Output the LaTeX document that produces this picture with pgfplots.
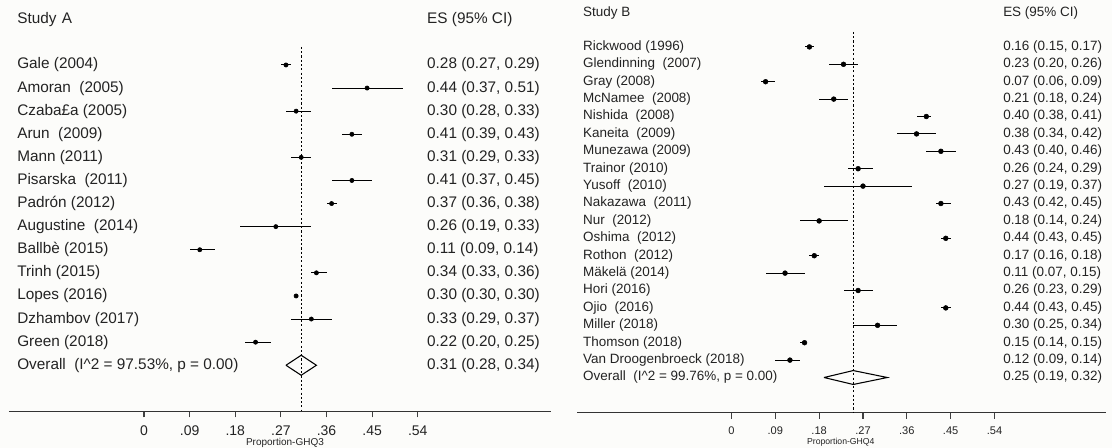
\documentclass[border=0pt]{standalone}
\usepackage{fontspec}
\setmainfont{Liberation Sans}
\usepackage{pgfplots}
\pgfplotsset{compat=1.18}
\usepackage{pgfplotstable}
\definecolor{txt}{RGB}{35,35,35}
\definecolor{bg}{RGB}{252,252,250}

% Study A: row, effect size, lower, upper
\pgfplotstableread{
row es lo hi
-1 0.28 0.27 0.29
-2 0.44 0.37 0.51
-3 0.30 0.28 0.33
-4 0.41 0.39 0.43
-5 0.31 0.29 0.33
-6 0.41 0.37 0.45
-7 0.37 0.36 0.38
-8 0.26 0.19 0.33
-9 0.11 0.09 0.14
-10 0.34 0.33 0.36
-11 0.30 0.30 0.30
-12 0.33 0.29 0.37
-13 0.22 0.20 0.25
}\dataA

% Study B
\pgfplotstableread{
row es lo hi
-1 0.16 0.15 0.17
-2 0.23 0.20 0.26
-3 0.07 0.06 0.09
-4 0.21 0.18 0.24
-5 0.40 0.38 0.41
-6 0.38 0.34 0.42
-7 0.43 0.40 0.46
-8 0.26 0.24 0.29
-9 0.27 0.19 0.37
-10 0.43 0.42 0.45
-11 0.18 0.14 0.24
-12 0.44 0.43 0.45
-13 0.17 0.16 0.18
-14 0.11 0.07 0.15
-15 0.26 0.23 0.29
-16 0.44 0.43 0.45
-17 0.30 0.25 0.34
-18 0.15 0.14 0.15
-19 0.12 0.09 0.14
}\dataB

\tikzset{
  lA/.style={anchor=west, inner sep=0pt, text=txt, font=\fontsize{11.5}{13}\selectfont},
  lB/.style={anchor=west, inner sep=0pt, text=txt, font=\fontsize{10.1}{12}\selectfont},
}
\newcommand{\RowA}[3]{\node[lA] at (axis cs:-0.2505,-#1) {#2};\node[lA] at (axis cs:0.558,-#1) {#3};}
\newcommand{\RowB}[3]{\node[lB] at (axis cs:-0.305,-#1) {#2};\node[lB] at (axis cs:0.5575,-#1) {#3};}

\begin{document}
\begin{tikzpicture}
\path[use as bounding box, fill=bg] (0,0) rectangle (834pt,336pt);

% ---------------- Panel A ----------------
\begin{axis}[
  scale only axis,
  x=380.25pt, y=17.325pt,
  xmin=-0.2663, xmax=0.8028, ymin=-16, ymax=1.5,
  at={(6.75pt,27.4pt)}, anchor=south west,
  axis x line*=bottom, axis y line=none,
  x axis line style={-, line width=0.8pt, color=black!80},
  xtick={0,0.09,0.18,0.27,0.36,0.45,0.54},
  xticklabels={0,.09,.18,.27,.36,.45,.54},
  tick align=outside, major tick length=4.5pt,
  xtick style={black!75, line width=0.8pt},
  xticklabel style={anchor=base, yshift=-13.5pt, text=txt, font=\fontsize{10.5}{12}\selectfont},
  clip=false,
]
\addplot[black, line width=1pt, dash pattern=on 1.6pt off 1.6pt] coordinates {(0.31,-0.22) (0.31,-16)};
\addplot[only marks, mark=*, mark size=1.6pt, black,
  error bars/.cd, x dir=both, x explicit, error mark=none,
  error bar style={line width=0.8pt, black}]
  table[x=es, y=row, x error plus expr=\thisrow{hi}-\thisrow{es}, x error minus expr=\thisrow{es}-\thisrow{lo}] {\dataA};
\addplot[black, line width=0.8pt, line join=miter] coordinates {(0.28,-14) (0.31,-13.567) (0.34,-14) (0.31,-14.433) (0.28,-14)};

\node[lA] at (axis cs:-0.2505,0.948) {Study\hspace{0.35em}A};
\node[lA] at (axis cs:0.558,0.948) {ES (95\% CI)};
\RowA{1}{Gale (2004)}{0.28 (0.27, 0.29)}
\RowA{2}{Amoran~ (2005)}{0.44 (0.37, 0.51)}
\RowA{3}{Czaba£a (2005)}{0.30 (0.28, 0.33)}
\RowA{4}{Arun~ (2009)}{0.41 (0.39, 0.43)}
\RowA{5}{Mann (2011)}{0.31 (0.29, 0.33)}
\RowA{6}{Pisarska~ (2011)}{0.41 (0.37, 0.45)}
\RowA{7}{Padrón (2012)}{0.37 (0.36, 0.38)}
\RowA{8}{Augustine~ (2014)}{0.26 (0.19, 0.33)}
\RowA{9}{Ballbè (2015)}{0.11 (0.09, 0.14)}
\RowA{10}{Trinh (2015)}{0.34 (0.33, 0.36)}
\RowA{11}{Lopes (2016)}{0.30 (0.30, 0.30)}
\RowA{12}{Dzhambov (2017)}{0.33 (0.29, 0.37)}
\RowA{13}{Green (2018)}{0.22 (0.20, 0.25)}
\RowA{14}{Overall~ (I\textasciicircum 2 = 97.53\%, p = 0.00)}{0.31 (0.28, 0.34)}
\node[text=txt, inner sep=0pt, font=\fontsize{7.5}{8}\selectfont] at (axis cs:0.278,-17.38) {Proportion-GHQ3};
\end{axis}

% ---------------- Panel B ----------------
\begin{axis}[
  scale only axis,
  x=365.25pt, y=13.05pt,
  xmin=-0.3172, xmax=0.769, ymin=-22.02, ymax=1.5,
  at={(432.75pt,26.5pt)}, anchor=south west,
  axis x line*=bottom, axis y line=none,
  x axis line style={-, line width=0.8pt, color=black!80},
  xtick={0,0.09,0.18,0.27,0.36,0.45,0.54},
  xticklabels={0,.09,.18,.27,.36,.45,.54},
  tick align=outside, major tick length=4.5pt,
  xtick style={black!75, line width=0.8pt},
  xticklabel style={anchor=base, yshift=-12pt, text=txt, font=\fontsize{8.3}{10}\selectfont},
  clip=false,
]
\addplot[black, line width=1pt, dash pattern=on 1.6pt off 1.6pt] coordinates {(0.25,-0.14) (0.25,-22.02)};
\addplot[only marks, mark=*, mark size=1.8pt, black,
  error bars/.cd, x dir=both, x explicit, error mark=none,
  error bar style={line width=0.8pt, black}]
  table[x=es, y=row, x error plus expr=\thisrow{hi}-\thisrow{es}, x error minus expr=\thisrow{es}-\thisrow{lo}] {\dataB};
\addplot[black, line width=0.8pt, line join=miter] coordinates {(0.19,-20) (0.25,-19.6) (0.32,-20) (0.25,-20.4) (0.19,-20)};

\node[lB] at (axis cs:-0.305,0.954) {Study B};
\node[lB] at (axis cs:0.5575,0.954) {ES (95\% CI)};
\RowB{1}{Rickwood (1996)}{0.16 (0.15, 0.17)}
\RowB{2}{Glendinning~ (2007)}{0.23 (0.20, 0.26)}
\RowB{3}{Gray (2008)}{0.07 (0.06, 0.09)}
\RowB{4}{McNamee~ (2008)}{0.21 (0.18, 0.24)}
\RowB{5}{Nishida~ (2008)}{0.40 (0.38, 0.41)}
\RowB{6}{Kaneita~ (2009)}{0.38 (0.34, 0.42)}
\RowB{7}{Munezawa (2009)}{0.43 (0.40, 0.46)}
\RowB{8}{Trainor (2010)}{0.26 (0.24, 0.29)}
\RowB{9}{Yusoff~ (2010)}{0.27 (0.19, 0.37)}
\RowB{10}{Nakazawa~ (2011)}{0.43 (0.42, 0.45)}
\RowB{11}{Nur~ (2012)}{0.18 (0.14, 0.24)}
\RowB{12}{Oshima~ (2012)}{0.44 (0.43, 0.45)}
\RowB{13}{Rothon~ (2012)}{0.17 (0.16, 0.18)}
\RowB{14}{Mäkelä (2014)}{0.11 (0.07, 0.15)}
\RowB{15}{Hori (2016)}{0.26 (0.23, 0.29)}
\RowB{16}{Ojio~ (2016)}{0.44 (0.43, 0.45)}
\RowB{17}{Miller (2018)}{0.30 (0.25, 0.34)}
\RowB{18}{Thomson (2018)}{0.15 (0.14, 0.15)}
\RowB{19}{Van Droogenbroeck (2018)}{0.12 (0.09, 0.14)}
\RowB{20}{Overall~ (I\textasciicircum 2 = 99.76\%, p = 0.00)}{0.25 (0.19, 0.32)}
\node[text=txt, inner sep=0pt, font=\fontsize{6.5}{7}\selectfont] at (axis cs:0.2245,-23.7) {Proportion-GHQ4};
\end{axis}
\end{tikzpicture}
\end{document}
